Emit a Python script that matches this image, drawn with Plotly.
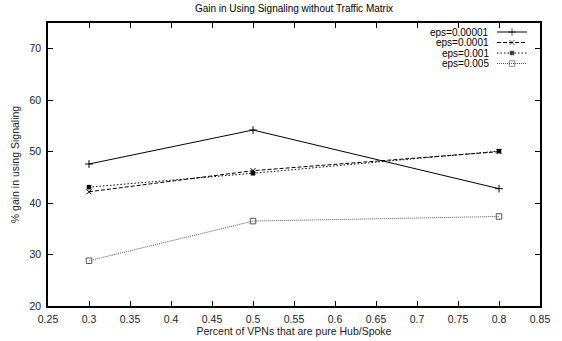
import plotly.graph_objects as go

# Data
x_vals = [0.3, 0.5, 0.8]
eps_labels = ["eps=0.00001", "eps=0.0001", "eps=0.001", "eps=0.005"]
gain_00001 = [47.6, 54.2, 42.8]
gain_0001 = [42.2, 46.3, 50.0]
gain_001 = [43.1, 45.8, 50.1]
gain_005 = [28.8, 36.5, 37.4]
x_ticks = [0.25, 0.3, 0.35, 0.4, 0.45, 0.5, 0.55, 0.6, 0.65, 0.7, 0.75, 0.8, 0.85]
y_ticks = [20, 30, 40, 50, 60, 70]

series = [gain_00001, gain_0001, gain_001, gain_005]
styles = [
    dict(dash="solid", color="#000000", symbol="cross-thin", size=5.5, mline=1),
    dict(dash="4px,2px", color="#000000", symbol="x-thin", size=5, mline=1),
    dict(dash="1.5px,2px", color="#000000", symbol="square", size=4.5, mline=0),
    dict(dash="1px,1px", color="#555555", symbol="square-open", size=5.5, mline=1),
]

FONT = "Liberation Sans, Arial, Helvetica, sans-serif"
L, R, T, B = 48, 22, 23, 35
W, H = 562, 341

fig = go.Figure()
for vals, st, name in zip(series, styles, eps_labels):
    fig.add_trace(go.Scatter(
        x=x_vals, y=vals, mode="lines+markers", name=name, showlegend=False,
        line=dict(color=st["color"], width=1, dash=st["dash"]),
        marker=dict(symbol=st["symbol"], size=st["size"], color=st["color"],
                    line=dict(color=st["color"], width=st["mline"])),
    ))

# Key in the top-right corner: label on the left, line sample on the right
# (drawn on a hidden overlay axis measured in pixels of the plot area)
key_rows = [32, 42.5, 53, 63.5]
for name, st, yk in zip(eps_labels, styles, key_rows):
    fig.add_trace(go.Scatter(
        x=[497, 512, 527], y=[yk, yk, yk], mode="lines+markers", showlegend=False,
        xaxis="x2", yaxis="y2", hoverinfo="skip",
        line=dict(color=st["color"], width=1, dash=st["dash"]),
        marker=dict(symbol=st["symbol"], size=[0, st["size"], 0], color=st["color"],
                    line=dict(color=st["color"], width=st["mline"])),
    ))
    fig.add_annotation(x=490, y=yk, xref="x2", yref="y2", text=name, showarrow=False,
                       xanchor="right", yanchor="middle", borderpad=0,
                       font=dict(family=FONT, size=10, color="#000"))

axis_common = dict(showline=True, linecolor="#000", linewidth=1.5, mirror="ticks",
                   ticks="inside", ticklen=5, tickwidth=1, tickcolor="#000",
                   showgrid=False, zeroline=False, ticklabelstandoff=3,
                   automargin=False,
                   tickfont=dict(family=FONT, size=10.5, color="#222"))

fig.update_layout(
    width=W, height=H,
    margin=dict(l=L, r=R, t=T, b=B, pad=0, autoexpand=False),
    paper_bgcolor="white", plot_bgcolor="white",
    title=dict(text="Gain in Using Signaling without Traffic Matrix",
               x=(L + (W - R)) / 2 / W, xanchor="center", y=1 - 8 / H, yanchor="middle",
               font=dict(family=FONT, size=10, color="#000")),
    xaxis=dict(range=[0.25, 0.85], tickvals=x_ticks,
               ticktext=[f"{v:g}" for v in x_ticks],
               title=dict(text="Percent of VPNs that are pure Hub/Spoke", standoff=3,
                          font=dict(family=FONT, size=10.5, color="#222")),
               **axis_common),
    yaxis=dict(range=[20, 75], tickvals=y_ticks,
               title=dict(text="% gain in using Signaling", standoff=8,
                          font=dict(family=FONT, size=10.5, color="#222")),
               **axis_common),
    xaxis2=dict(range=[L, W - R], overlaying="x", visible=False, fixedrange=True),
    yaxis2=dict(range=[H - B, T], overlaying="y", visible=False, fixedrange=True),
    showlegend=False,
)

fig.write_html("out.html")
